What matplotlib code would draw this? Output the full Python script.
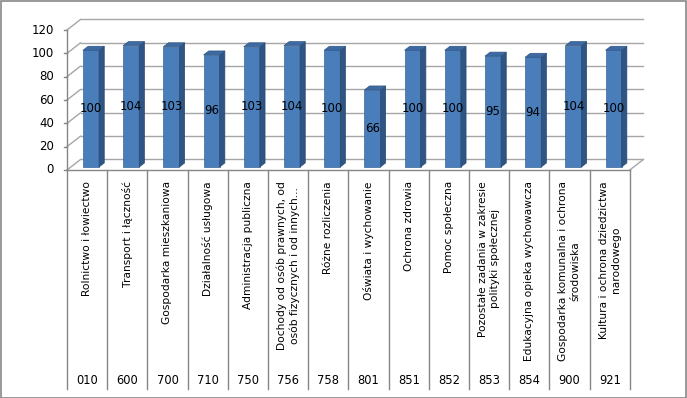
import matplotlib
matplotlib.use('Agg')
import matplotlib.pyplot as plt
from matplotlib.patches import Polygon, Rectangle

# dane
codes = ['010', '600', '700', '710', '750', '756', '758', '801', '851', '852', '853', '854', '900', '921']
names = ['Rolnictwo i łowiectwo',
         'Transport i łączność',
         'Gospodarka mieszkaniowa',
         'Działalność usługowa',
         'Administracja publiczna',
         'Dochody od osób prawnych, od\nosób fizycznych i od innych...',
         'Różne rozliczenia',
         'Oświata i wychowanie',
         'Ochrona zdrowia',
         'Pomoc społeczna',
         'Pozostałe zadania w zakresie\npolityki społecznej',
         'Edukacyjna opieka wychowawcza',
         'Gospodarka komunalna i ochrona\nśrodowiska',
         'Kultura i ochrona dziedzictwa\nnarodowego']
values = [100, 104, 103, 96, 103, 104, 100, 66, 100, 100, 95, 94, 104, 100]
yticks = [0, 20, 40, 60, 80, 100, 120]

W, H = 687, 398
X0, CW = 67, 40.2          # lewa krawedz osi (px), szerokosc kategorii (px)
Y0, VU = 170, 140 / 120    # os 0 (px od gory), px na jednostke
n = len(values)

fig = plt.figure(figsize=(W / 100, H / 100), dpi=100)
ax = fig.add_axes([0, 0, 1, 1])
ax.set_xlim(-X0 / CW, (W - X0) / CW)
ax.set_ylim(-(H - Y0) / VU, Y0 / VU)
ax.axis('off')

# glebokosc 3D
ddx, ddy = 13.5 / CW, 10.5 / VU
grid_c = '#A6A6A6'
axis_c = '#868686'
top = yticks[-1]

# tylna sciana - linie siatki
for t in yticks:
    ax.plot([ddx, n + ddx], [t + ddy, t + ddy], color=grid_c, lw=1, zorder=1)
    ax.plot([0, ddx], [t, t + ddy], color=grid_c, lw=1, zorder=1)
    ax.plot([-3 / CW, 0], [t, t], color=axis_c, lw=1, zorder=2)
    ax.text(-13 / CW, t, str(t), ha='right', va='center', fontsize=8.5)

# podloga
ax.plot([0, n], [0, 0], color=axis_c, lw=1, zorder=2)
ax.plot([n, n + ddx], [0, ddy], color=grid_c, lw=1, zorder=1)
ax.plot([0, 0], [0, top], color=axis_c, lw=1, zorder=2)

# slupki
f = 0.29
bw = 0.4
sx, sy = 5.2 / CW, 4.0 / VU
xs = [i + 0.5 + f * ddx for i in range(n)]
y_base = f * ddy
ax.bar(xs, values, width=bw, bottom=y_base, color='#4A7EBB', edgecolor='#3B6598', lw=0.5, zorder=5)
for x, v in zip(xs, values):
    xl, xr = x - bw / 2, x + bw / 2
    yt = y_base + v
    ax.add_patch(Polygon([(xr, y_base), (xr + sx, y_base + sy), (xr + sx, yt + sy), (xr, yt)],
                         closed=True, fc='#2F5584', ec='#2A4A73', lw=0.5, zorder=5))
    ax.add_patch(Polygon([(xl, yt), (xl + sx, yt + sy), (xr + sx, yt + sy), (xr, yt)],
                         closed=True, fc='#3D6AA3', ec='#2F5584', lw=0.5, zorder=5))
    ax.text(x, y_base + v / 2, str(v), ha='center', va='center', fontsize=8.5, zorder=6)

# tabela kategorii
y_bot = -(389 - Y0) / VU
for i in range(n + 1):
    ax.plot([i, i], [0, y_bot], color=axis_c, lw=1, zorder=2)
for i in range(n):
    ax.text(i + 0.5, -(181 - Y0) / VU, names[i], rotation=90, ha='center', va='top',
            multialignment='center', fontsize=7.7, linespacing=1.25)
    ax.text(i + 0.5, -(380 - Y0) / VU, codes[i], ha='center', va='center', fontsize=8.3)

# ramka
fig.patches.append(Rectangle((0.5 / W, 0.5 / H), 1 - 1.5 / W, 1 - 1.5 / H, transform=fig.transFigure,
                             fill=False, ec='#878787', lw=1.2))

fig.savefig('out.png', dpi=100)
